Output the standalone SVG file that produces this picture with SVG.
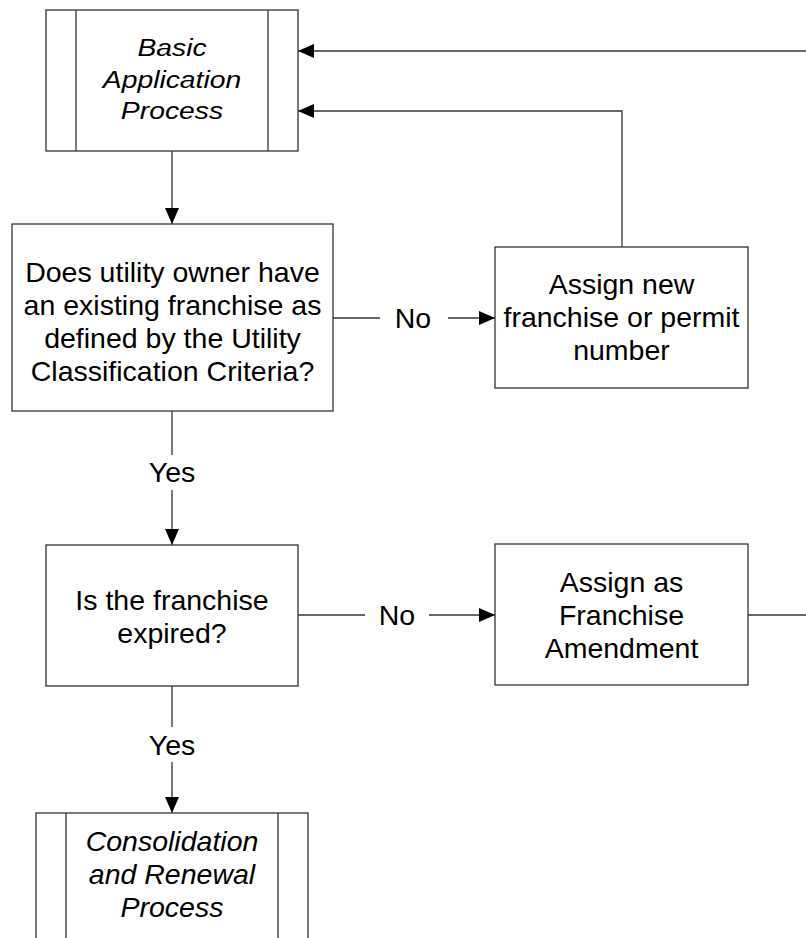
<svg xmlns="http://www.w3.org/2000/svg" width="806" height="938" viewBox="0 0 806 938">
<defs>
<style>
.box{fill:#fff;stroke:#333;stroke-width:1.3}
.t{font-family:"Liberation Sans",Arial,sans-serif;font-size:28.5px;fill:#000;text-anchor:middle}
.i{font-style:italic}
.n{font-size:24px}
.c{fill:none;stroke:#333;stroke-width:1.3}
</style>
<marker id="ah" markerUnits="userSpaceOnUse" markerWidth="17" markerHeight="15" refX="16" refY="7" orient="auto" viewBox="0 0 17 14">
<path d="M0,0 L16,7 L0,14 z" fill="#000"/>
</marker>
</defs>
<rect width="806" height="938" fill="#fff"/>
<g id="connectors">
<path class="c" d="M806,51 H298" marker-end="url(#ah)"/>
<path class="c" d="M622,247 V111 H298" marker-end="url(#ah)"/>
<path class="c" d="M172,151 V224" marker-end="url(#ah)"/>
<path class="c" d="M333,318 H380"/>
<path class="c" d="M448,318 H495" marker-end="url(#ah)"/>
<path class="c" d="M172,411 V455"/>
<path class="c" d="M172,490 V545" marker-end="url(#ah)"/>
<path class="c" d="M298,615 H365"/>
<path class="c" d="M429,615 H495" marker-end="url(#ah)"/>
<path class="c" d="M748,615 H806"/>
<path class="c" d="M172,686 V727"/>
<path class="c" d="M172,762 V813" marker-end="url(#ah)"/>
<text class="t" x="413" y="328">No</text>
<text class="t" x="397" y="625">No</text>
<text class="t" x="172" y="482">Yes</text>
<text class="t" x="172" y="755">Yes</text>
</g>
<g id="basic-application">
<rect class="box" x="46" y="10" width="252" height="141"/>
<path class="c" d="M76,10 V151 M268,10 V151"/>
<text class="t i n" transform="matrix(1.18,0,0,1,172,0)"><tspan x="0" y="56.5">Basic</tspan><tspan x="0" y="88">Application</tspan><tspan x="0" y="119.5">Process</tspan></text>
</g>
<g id="existing-franchise">
<rect class="box" x="12" y="224" width="321" height="187"/>
<text class="t"><tspan x="172.5" y="281.5">Does utility owner have</tspan><tspan x="172.5" y="314.5">an existing franchise as</tspan><tspan x="172.5" y="347.5">defined by the Utility</tspan><tspan x="172.5" y="380.5">Classification Criteria?</tspan></text>
</g>
<g id="assign-new">
<rect class="box" x="495" y="247" width="253" height="141"/>
<text class="t"><tspan x="621.5" y="294">Assign new</tspan><tspan x="621.5" y="327">franchise or permit</tspan><tspan x="621.5" y="360">number</tspan></text>
</g>
<g id="franchise-expired">
<rect class="box" x="46" y="545" width="252" height="141"/>
<text class="t"><tspan x="172" y="609.5">Is the franchise</tspan><tspan x="172" y="642.5">expired?</tspan></text>
</g>
<g id="assign-amendment">
<rect class="box" x="495" y="544" width="253" height="141"/>
<text class="t"><tspan x="621.5" y="591.5">Assign as</tspan><tspan x="621.5" y="624.5">Franchise</tspan><tspan x="621.5" y="657.5">Amendment</tspan></text>
</g>
<g id="consolidation-renewal">
<rect class="box" x="36" y="813" width="272" height="140"/>
<path class="c" d="M66,813 V940 M278,813 V940"/>
<text class="t i"><tspan x="172" y="851">Consolidation</tspan><tspan x="172" y="884">and Renewal</tspan><tspan x="172" y="917">Process</tspan></text>
</g>
</svg>
